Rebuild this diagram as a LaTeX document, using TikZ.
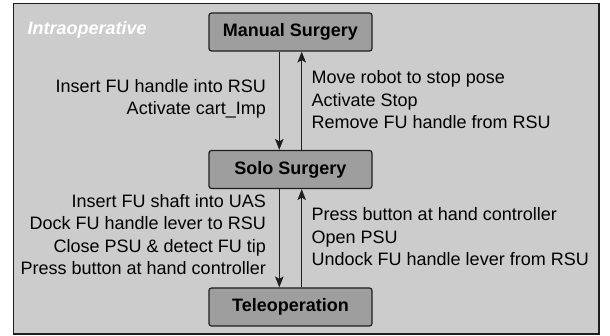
\documentclass[tikz,border=0pt]{standalone}
\usepackage{fontspec}
\setmainfont{Liberation Sans}
\usetikzlibrary{arrows.meta, positioning, calc}
\definecolor{panel}{RGB}{204,204,204}
\definecolor{phase}{RGB}{158,158,158}
\definecolor{edge}{RGB}{30,30,30}

\tikzset{
    phasebox/.style={rectangle, draw=edge, fill=phase, line width=1.2pt, rounded corners=2.5pt,
        minimum width=163pt, minimum height=38pt, inner sep=0pt, font=\fontsize{18}{22.6}\selectfont\bfseries},
    steps/.style={inner sep=0pt, font=\fontsize{18}{22.6}\selectfont},
    flow/.style={draw=edge, line width=1.2pt, -{Stealth[length=11pt, width=8.5pt, inset=2.5pt]}}
}

\begin{document}
\begin{tikzpicture}[x=1pt, y=-1pt]
        \useasboundingbox (0,0) rectangle (610,336);

        % Intraoperative panel
        \draw[draw=edge, fill=panel, line width=1.2pt] (13.5,3.5) rectangle (599,334);
        \node[inner sep=0pt, anchor=base west, text=white, font=\fontsize{18}{22.6}\selectfont\bfseries\itshape] (phase) at (27.5,35) {Intraoperative};

        % Surgery modes
        \node[phasebox] (manual) at (290.5,32) {Manual Surgery};
        \node[phasebox] (solo) at (290.5,169.5) {Solo Surgery};
        \node[phasebox] (teleop) at (290.5,307) {Teleoperation};

        % Manual <-> Solo (anchored at the last line)
        \draw[flow] ([xshift=-11.2pt]manual.south) -- ([xshift=-11.2pt]solo.north);
        \draw[flow] ([xshift=11.2pt]solo.north) -- ([xshift=11.2pt]manual.south);
        \node[steps, align=right, anchor=base east] (toSolo) at (266,115) {Insert FU handle into RSU\\Activate cart\_Imp};
        \node[steps, align=left, anchor=base west] (toManual) at (311.5,129) {Move robot to stop pose\\Activate Stop\\Remove FU handle from RSU};

        % Solo <-> Teleoperation
        \draw[flow] ([xshift=-11.2pt]solo.south) -- ([xshift=-11.2pt]teleop.north);
        \draw[flow] ([xshift=11.2pt]teleop.north) -- ([xshift=11.2pt]solo.south);
        \node[steps, align=right, anchor=base east] (toTeleop) at (266,275) {Insert FU shaft into UAS\\Dock FU handle lever to RSU\\Close PSU \& detect FU tip\\Press button at hand controller};
        \node[steps, align=left, anchor=base west] (backSolo) at (311.5,266) {Press button at hand controller\\Open PSU\\Undock FU handle lever from RSU};
    \end{tikzpicture}
\end{document}
